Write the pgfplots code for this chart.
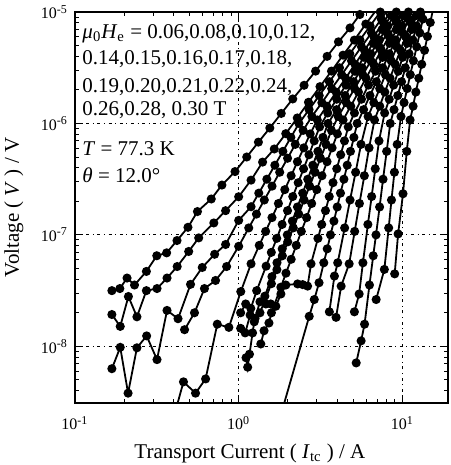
\documentclass[border=0pt]{standalone}
\usepackage{fontspec}
\setmainfont{Liberation Serif}
\usepackage{pgfplots}
\pgfplotsset{compat=1.18}
\pgfplotsset{vc/.style={black, line width=0.9pt, mark=*, mark size=1.8pt, mark options={solid, fill=black}}}
\begin{document}
\begin{tikzpicture}
\begin{axis}[
  name=ax,
  scale only axis, width=186.5pt, height=195.5pt,
  xmode=log, ymode=log,
  xmin=0.1, xmax=19, ymin=3.1e-9, ymax=1e-5,
  xtick={0.1,1,10},
  xticklabels={10\textsuperscript{-1},10\textsuperscript{0},10\textsuperscript{1}},
  ytick={1e-8,1e-7,1e-6,1e-5},
  yticklabels={10\textsuperscript{-8},10\textsuperscript{-7},10\textsuperscript{-6},10\textsuperscript{-5}},
  minor xtick={0.2,0.3,0.4,0.5,0.6,0.7,0.8,0.9,2,3,4,5,6,7,8,9},
  minor ytick={4e-9,5e-9,6e-9,7e-9,8e-9,9e-9,2e-8,3e-8,4e-8,5e-8,6e-8,7e-8,8e-8,9e-8,2e-7,3e-7,4e-7,5e-7,6e-7,7e-7,8e-7,9e-7,2e-6,3e-6,4e-6,5e-6,6e-6,7e-6,8e-6,9e-6},
  tick align=inside, major tick length=4pt, minor tick length=2pt,
  every tick/.style={black, line width=0.5pt},
  grid=major,
  major grid style={black, line width=0.45pt, dash pattern=on 1.5pt off 1.8pt on 0.5pt off 1.8pt},
  axis line style={line width=1pt},
  tick label style={font=\fontsize{8}{9}\selectfont},
  xticklabel style={yshift=-3pt},
  label style={font=\fontsize{10.5}{12}\selectfont},
  xlabel={Transport Current ( \textit{I}\textsubscript{tc} ) / A},
  ylabel={Voltage ( \textit{V} ) / V},
  xlabel style={at={(axis description cs:0.469,0)}, anchor=center, yshift=-25pt},
  ylabel style={at={(axis description cs:-0.164,0.50)}, anchor=center},
]
% 0.30 T
\addplot[vc] coordinates {(0.168,3.16e-8)(0.188,3.3e-8)(0.208,4.1e-8)(0.231,3.55e-8)(0.273,4.7e-8)(0.316,6.5e-8)(0.363,6.9e-8)(0.42,8.9e-8)(0.49,1.17e-7)(0.56,1.62e-7)(0.68,2.1e-7)(0.79,2.8e-7)(0.95,3.7e-7)(1.12,5.0e-7)(1.32,6.8e-7)(1.55,9.1e-7)(1.82,1.23e-6)(2.14,1.66e-6)(2.51,2.2e-6)(2.95,2.95e-6)(3.47,4.0e-6)(4.07,5.4e-6)(4.79,7.2e-6)(5.5,9.5e-6)(6.3,1.23e-5)};
% 0.28 T
\addplot[vc] coordinates {(0.168,1.93e-8)(0.189,1.51e-8)(0.212,2.8e-8)(0.239,1.84e-8)(0.273,3.16e-8)(0.317,3.3e-8)(0.365,4.1e-8)(0.421,5.2e-8)(0.495,7.1e-8)(0.570,9.4e-8)(0.705,1.28e-7)(0.832,1.65e-7)(1.0,2.2e-7)(1.19,3.1e-7)(1.40,4.5e-7)(1.65,5.9e-7)(1.94,8.1e-7)(2.28,1.12e-6)(2.67,1.55e-6)(3.14,2.14e-6)(3.69,2.95e-6)(4.34,4.1e-6)(5.09,5.6e-6)(5.98,7.8e-6)(7.03,1.07e-5)};
% 0.26 T
\addplot[vc] coordinates {(0.168,6.3e-9)(0.189,9.8e-9)(0.211,3.8e-9)(0.239,9.7e-9)(0.274,1.24e-8)(0.317,7.6e-9)(0.365,2.1e-8)(0.426,1.77e-8)(0.508,3.6e-8)(0.599,5.1e-8)(0.713,6.7e-8)(0.832,8.2e-8)(1.0,1.35e-7)(1.19,1.79e-7)(1.327,2.37e-7)(1.486,3.16e-7)(1.663,4.22e-7)(1.862,5.62e-7)(2.084,7.5e-7)(2.334,1e-6)(2.692,1.33e-6)(3.105,1.78e-6)(3.582,2.37e-6)(4.130,3.16e-6)(4.775,4.22e-6)(5.508,5.62e-6)(6.353,7.5e-6)(7.328,1e-5)(8.45,1.33e-5)};
% 0.24 T
\addplot[vc] coordinates {(0.467,1.41e-8)(0.537,2.0e-8)(0.618,3.3e-8)(0.722,3.9e-8)(0.844,5.2e-8)(1.0,7.9e-8)(1.152,1.155e-7)(1.284,1.536e-7)(1.434,2.056e-7)(1.599,2.737e-7)(1.781,3.649e-7)(1.990,4.873e-7)(2.217,6.49e-7)(2.475,8.66e-7)(2.801,1.155e-6)(3.223,1.536e-6)(3.700,2.056e-6)(4.259,2.737e-6)(4.889,3.649e-6)(5.627,4.873e-6)(6.476,6.49e-6)(7.435,8.66e-6)(8.556,1.155e-5)(9.823,1.536e-5)};
% 0.22 T
\addplot[vc] coordinates {(0.394,2.1e-9)(0.46,4.8e-9)(0.545,3.8e-9)(0.628,5.1e-9)(0.74,1.58e-8)(0.871,1.48e-8)(1.03,3.1e-8)(1.19,5.5e-8)(1.336,8.06e-8)(1.461,1.075e-7)(1.598,1.429e-7)(1.749,1.913e-7)(1.913,2.547e-7)(2.092,3.396e-7)(2.285,4.535e-7)(2.498,6.04e-7)(2.734,8.06e-7)(3.023,1.075e-6)(3.455,1.429e-6)(3.939,1.913e-6)(4.502,2.547e-6)(5.133,3.396e-6)(5.866,4.535e-6)(6.690,6.04e-6)(7.645,8.06e-6)(8.717,1.075e-5)(9.963,1.429e-5)};
% 0.21 T
\addplot[vc] coordinates {(1.028,2.0e-8)(1.104,2.4e-8)(1.186,2.19e-8)(1.288,3.16e-8)(1.471,5.24e-8)(1.583,6.97e-8)(1.708,9.31e-8)(1.843,1.241e-7)(1.988,1.650e-7)(2.140,2.209e-7)(2.310,2.941e-7)(2.492,3.921e-7)(2.688,5.237e-7)(2.894,6.974e-7)(3.122,9.31e-7)(3.502,1.241e-6)(3.975,1.650e-6)(4.523,2.209e-6)(5.134,2.941e-6)(5.827,3.921e-6)(6.629,5.237e-6)(7.523,6.974e-6)(8.538,9.31e-6)(9.691,1.241e-5)(11.02,1.650e-5)};
% 0.20 T
\addplot[vc] coordinates {(1.028,1.45e-8)(1.096,1.32e-8)(1.175,1.91e-8)(1.259,1.78e-8)(1.349,2.51e-8)(1.445,2.82e-8)(1.596,4.22e-8)(1.714,5.62e-8)(1.845,7.5e-8)(1.982,1e-7)(2.128,1.33e-7)(2.286,1.78e-7)(2.460,2.37e-7)(2.642,3.16e-7)(2.838,4.22e-7)(3.048,5.62e-7)(3.273,7.5e-7)(3.515,1e-6)(3.963,1.33e-6)(4.467,1.78e-6)(5.035,2.37e-6)(5.675,3.16e-6)(6.412,4.22e-6)(7.228,5.62e-6)(8.147,7.5e-6)(9.183,1e-5)(10.35,1.33e-5)};
% 0.19 T
\addplot[vc] coordinates {(1.109,7.9e-9)(1.135,6.5e-9)(1.164,8.5e-9)(1.216,1.32e-8)(1.245,1.66e-8)(1.349,2.0e-8)(1.584,3.649e-8)(1.712,4.873e-8)(1.848,6.49e-8)(1.994,8.66e-8)(2.156,1.155e-7)(2.327,1.536e-7)(2.509,2.056e-7)(2.714,2.737e-7)(2.928,3.649e-7)(3.160,4.873e-7)(3.418,6.49e-7)(3.687,8.66e-7)(4.056,1.155e-6)(4.549,1.536e-6)(5.104,2.056e-6)(5.728,2.737e-6)(6.426,3.649e-6)(7.211,4.873e-6)(8.072,6.49e-6)(9.057,8.66e-6)(10.16,1.155e-5)(11.40,1.536e-5)};
% 0.18 T
\addplot[vc] coordinates {(1.365,1.05e-8)(1.429,1.38e-8)(1.531,1.62e-8)(1.585,2.0e-8)(1.810,3.396e-8)(1.945,4.535e-8)(2.093,6.04e-8)(2.248,8.06e-8)(2.414,1.075e-7)(2.599,1.429e-7)(2.792,1.913e-7)(2.998,2.547e-7)(3.228,3.396e-7)(3.466,4.535e-7)(3.723,6.04e-7)(4.008,8.06e-7)(4.342,1.075e-6)(4.839,1.429e-6)(5.391,1.913e-6)(5.993,2.547e-6)(6.678,3.396e-6)(7.442,4.535e-6)(8.292,6.04e-6)(9.241,8.06e-6)(10.27,1.075e-5)(11.44,1.429e-5)};
% 0.17 T
\addplot[vc] coordinates {(1.466,2.4e-8)(1.570,2.4e-8)(1.687,2.29e-8)(1.811,2.95e-8)(1.941,3.55e-8)(2.291,3.63e-8)(2.46,3.58e-8)(2.636,3.47e-8)(2.767,5.5e-8)(3.050,9.31e-8)(3.216,1.241e-7)(3.391,1.650e-7)(3.576,2.209e-7)(3.770,2.941e-7)(3.974,3.921e-7)(4.200,5.237e-7)(4.429,6.974e-7)(4.670,9.31e-7)(5.096,1.241e-6)(5.626,1.650e-6)(6.212,2.209e-6)(6.858,2.941e-6)(7.572,3.921e-6)(8.360,5.237e-6)(9.209,6.974e-6)(10.17,9.31e-6)(11.22,1.241e-5)(12.40,1.650e-5)};
% 0.16 T
\addplot[vc] coordinates {(1.521,1e-9)(2.698,1.86e-8)(2.897,2.63e-8)(3.097,3.72e-8)(3.311,5.62e-8)(3.475,7.5e-8)(3.639,1e-7)(3.819,1.33e-7)(4.000,1.78e-7)(4.188,2.37e-7)(4.395,3.16e-7)(4.603,4.22e-7)(4.819,5.62e-7)(5.058,7.5e-7)(5.297,1e-6)(5.794,1.33e-6)(6.339,1.78e-6)(6.934,2.37e-6)(7.586,3.16e-6)(8.318,4.22e-6)(9.099,5.62e-6)(9.954,7.5e-6)(10.89,1e-5)(11.91,1.33e-5)};
% 0.15 T
\addplot[vc] coordinates {(3.581,2.04e-8)(3.846,4.27e-8)(4.027,5.62e-8)(4.440,1.155e-7)(4.791,2.056e-7)(5.181,3.649e-7)(5.590,6.49e-7)(6.175,1.155e-6)(6.694,1.536e-6)(7.272,2.056e-6)(7.882,2.737e-6)(8.545,3.649e-6)(9.261,4.873e-6)(10.06,6.49e-6)(10.90,8.66e-6)(11.82,1.155e-5)(12.84,1.536e-5)};
% 0.14 T
\addplot[vc] coordinates {(3.936,1.82e-8)(4.227,3.47e-8)(4.732,5.5e-8)(5.113,1.075e-7)(5.466,1.913e-7)(5.857,3.396e-7)(6.261,6.04e-7)(6.758,1.075e-6)(7.276,1.429e-6)(7.814,1.913e-6)(8.411,2.547e-6)(9.034,3.396e-6)(9.725,4.535e-6)(10.45,6.04e-6)(11.24,8.06e-6)(12.08,1.075e-5)(12.99,1.429e-5)};
% 0.12 T
\addplot[vc] coordinates {(5.093,2.04e-8)(5.445,2.95e-8)(5.741,5.62e-8)(6.157,1.241e-7)(6.492,2.209e-7)(6.830,3.921e-7)(7.201,6.974e-7)(7.793,1.241e-6)(8.313,1.650e-6)(8.845,2.209e-6)(9.435,2.941e-6)(10.04,3.921e-6)(10.71,5.237e-6)(11.42,6.974e-6)(12.16,9.31e-6)(12.96,1.241e-5)(13.79,1.650e-5)};
% 0.10 T
\addplot[vc] coordinates {(5.224,7.1e-9)(5.598,1.12e-8)(5.875,1.58e-8)(6.295,3.55e-8)(6.637,6.5e-8)(6.902,1e-7)(7.261,1.78e-7)(7.621,3.16e-7)(8.017,5.62e-7)(8.433,1e-6)(8.892,1.33e-6)(9.376,1.78e-6)(9.886,2.37e-6)(10.42,3.16e-6)(10.99,4.22e-6)(11.59,5.62e-6)(12.22,7.5e-6)(12.88,1e-5)(13.58,1.33e-5)};
% 0.08 T
\addplot[vc] coordinates {(6.918,2.63e-8)(7.762,4.9e-8)(8.249,1.155e-7)(8.579,2.056e-7)(8.941,3.649e-7)(9.298,6.49e-7)(9.808,1.155e-6)(10.24,1.536e-6)(10.70,2.056e-6)(11.18,2.737e-6)(11.68,3.649e-6)(12.24,4.873e-6)(12.78,6.49e-6)(13.35,8.66e-6)(13.95,1.155e-5)(14.58,1.536e-5)};
% 0.06 T
\addplot[vc] coordinates {(8.974,4.47e-8)(9.419,1.02e-7)(10.09,2.34e-7)(10.64,5.62e-7)(11.15,1.075e-6)(11.63,1.429e-6)(12.09,1.913e-6)(12.60,2.547e-6)(13.13,3.396e-6)(13.66,4.535e-6)(14.23,6.04e-6)(14.81,8.06e-6)(15.44,1.075e-5)(16.08,1.429e-5)};
\begin{scope}[every node/.style={anchor=base west, inner sep=0pt, font=\fontsize{10.5}{12}\selectfont}]
\node at (axis description cs:0.019,0.9335) {\textit{μ}\textsubscript{0}\textit{H}\textsubscript{e} = 0.06,0.08,0.10,0.12,};
\node at (axis description cs:0.019,0.8645) {0.14,0.15,0.16,0.17,0.18,};
\node at (axis description cs:0.019,0.793) {0.19,0.20,0.21,0.22,0.24,};
\node at (axis description cs:0.019,0.7366) {0.26,0.28, 0.30 T};
\node at (axis description cs:0.019,0.634) {\textit{T} = 77.3 K};
\node at (axis description cs:0.019,0.565) {\textit{θ} = 12.0°};
\end{scope}
\end{axis}
\pgfresetboundingbox
\useasboundingbox ([xshift=-37.5pt,yshift=-31pt]ax.south west) rectangle ([xshift=1.5pt,yshift=6pt]ax.north east);
\end{tikzpicture}
\end{document}
